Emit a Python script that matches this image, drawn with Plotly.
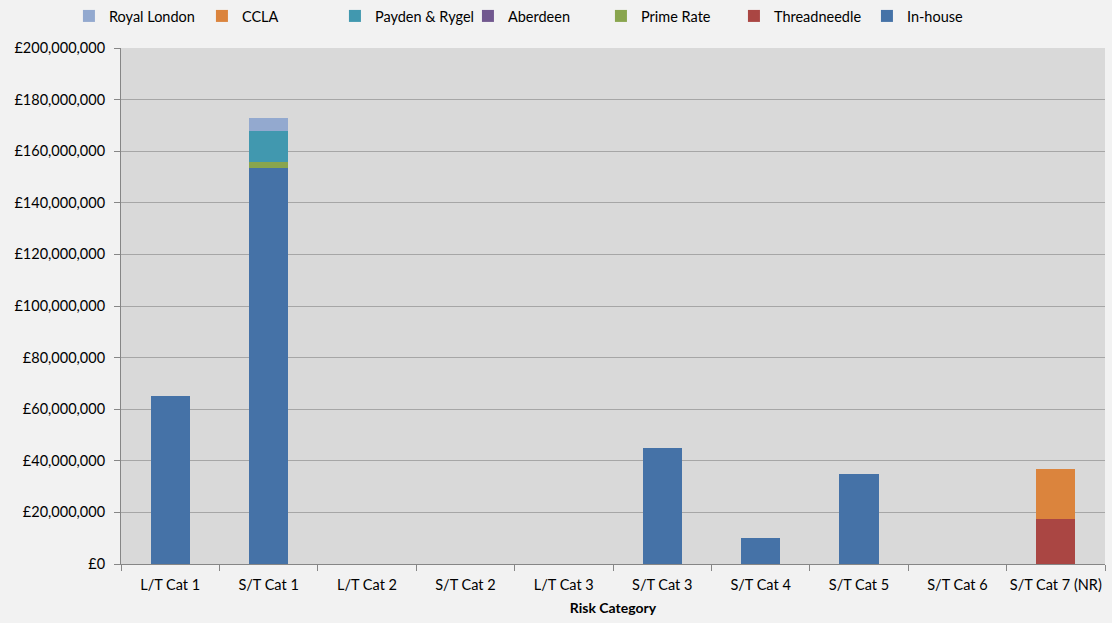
import plotly.graph_objects as go

categories = ["L/T Cat 1", "S/T Cat 1", "L/T Cat 2", "S/T Cat 2", "L/T Cat 3",
              "S/T Cat 3", "S/T Cat 4", "S/T Cat 5", "S/T Cat 6", "S/T Cat 7 (NR)"]

in_house = [65_000_000, 153_500_000, 0, 0, 0, 45_000_000, 10_000_000, 35_000_000, 0, 0]
threadneedle = [0, 0, 0, 0, 0, 0, 0, 0, 0, 17_400_000]
prime_rate = [0, 2_200_000, 0, 0, 0, 0, 0, 0, 0, 0]
aberdeen = [0, 0, 0, 0, 0, 0, 0, 0, 0, 0]
payden_rygel = [0, 12_300_000, 0, 0, 0, 0, 0, 0, 0, 0]
ccla = [0, 0, 0, 0, 0, 0, 0, 0, 0, 19_300_000]
royal_london = [0, 5_000_000, 0, 0, 0, 0, 0, 0, 0, 0]

# stacked bottom-up
series = [
    ("In-house", in_house, "#4572A7"),
    ("Threadneedle", threadneedle, "#AA4643"),
    ("Prime Rate", prime_rate, "#89A54E"),
    ("Aberdeen", aberdeen, "#71588F"),
    ("Payden & Rygel", payden_rygel, "#4198AF"),
    ("CCLA", ccla, "#DB843D"),
    ("Royal London", royal_london, "#93A9CF"),
]

fig = go.Figure()
for name, vals, color in series:
    fig.add_trace(go.Bar(x=categories, y=vals, name=name,
                         marker=dict(color=color, line=dict(width=0))))

fig.update_layout(
    barmode="stack",
    bargap=0.6,
    width=1112, height=623,
    paper_bgcolor="#F2F2F2",
    plot_bgcolor="#D9D9D9",
    font=dict(family="Lato, Open Sans, sans-serif", size=14.5, color="#000000"),
    margin=dict(l=121, r=7, t=48, b=59),
    legend=dict(orientation="h", traceorder="reversed",
                x=0.062, xanchor="left", xref="container",
                y=1.0, yanchor="top", yref="container",
                font=dict(size=14.5), entrywidth=88, itemwidth=30),
    xaxis=dict(
        title=dict(text="<b>Risk Category</b>", font=dict(size=14), standoff=10),
        showline=True, linecolor="#868686", ticks="outside", tickcolor="#868686",
        ticklen=6, tickson="boundaries", showgrid=False, tickangle=0,
        ticklabelstandoff=8,
    ),
    yaxis=dict(
        range=[0, 200_000_000], dtick=20_000_000, tickprefix="£",
        tickformat=",.0f", showline=True, linecolor="#868686",
        ticks="outside", tickcolor="#868686", ticklen=6, ticklabelstandoff=6,
        gridcolor="#A6A6A6", gridwidth=1, zeroline=False,
    ),
)

fig.write_html("out.html", config={"displayModeBar": False},
               post_script="document.body.style.margin='0';")
